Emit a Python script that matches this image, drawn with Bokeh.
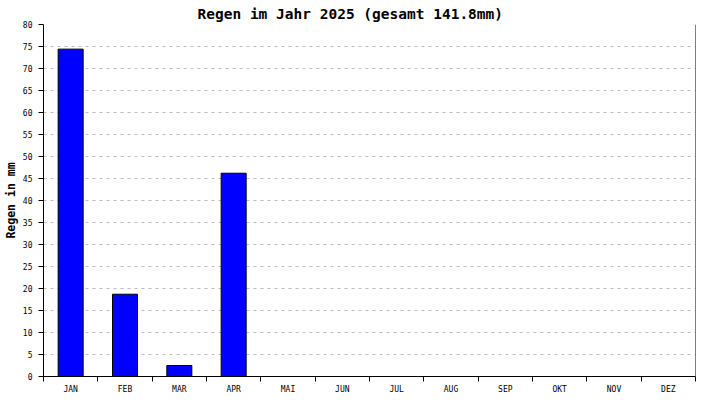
from bokeh.plotting import figure
from bokeh.models import FixedTicker, Span, Range1d, ColumnDataSource
from bokeh.embed import file_html
from bokeh.resources import INLINE

months = ["JAN", "FEB", "MAR", "APR", "MAI", "JUN", "JUL", "AUG", "SEP", "OKT", "NOV", "DEZ"]
rain_mm = [74.4, 18.7, 2.5, 46.2, 0, 0, 0, 0, 0, 0, 0, 0]
y_ticks = list(range(0, 81, 5))
title_text = "Regen im Jahr 2025 (gesamt 141.8mm)"
y_label = "Regen in mm"

FONT = "DejaVu Sans Mono"

centers = [i + 0.5 for i in range(len(months))]
src = ColumnDataSource(dict(x=[c for c, v in zip(centers, rain_mm) if v > 0],
                            top=[v for v in rain_mm if v > 0]))

p = figure(frame_width=652, frame_height=352, output_backend="svg", toolbar_location=None,
           x_range=Range1d(0, len(months)), y_range=Range1d(0, 80),
           title=title_text,
           min_border_left=35, min_border_right=7, min_border_top=0, min_border_bottom=0)
p.outline_line_color = None
p.background_fill_color = "white"
p.border_fill_color = "white"

p.title.text_font = FONT
p.title.text_font_size = "14.5px"
p.title.text_font_style = "bold"
p.title.text_color = "black"
p.title.align = "left"
p.title.offset = 154
p.title.standoff = 6

p.vbar(x="x", top="top", width=0.46, bottom=0, source=src,
       fill_color="#0000ff", line_color="black", line_width=1)

# x axis: labels at centres, ticks at boundaries
p.xaxis.ticker = FixedTicker(ticks=centers, minor_ticks=list(range(len(months) + 1)))
p.xaxis.major_label_overrides = {c: m for c, m in zip(centers, months)}
p.xaxis.major_tick_line_color = None
p.xaxis.minor_tick_line_color = "black"
p.xaxis.minor_tick_out = 5
p.xaxis.minor_tick_in = 0
p.xaxis.major_tick_out = 5
p.xaxis.major_tick_in = 0
p.xaxis.major_label_text_font = FONT
p.xaxis.major_label_text_font_size = "8px"
p.xaxis.major_label_text_color = "black"
p.xaxis.major_label_standoff = 3
p.xaxis.axis_line_color = "black"

p.yaxis.ticker = FixedTicker(ticks=y_ticks)
p.yaxis.major_tick_out = 5
p.yaxis.major_tick_in = 0
p.yaxis.minor_tick_line_color = None
p.yaxis.major_label_text_font = FONT
p.yaxis.major_label_text_font_size = "8px"
p.yaxis.major_label_text_color = "black"
p.yaxis.major_label_standoff = 6
p.yaxis.axis_line_color = "black"
p.yaxis.axis_label = y_label
p.yaxis.axis_label_text_font = FONT
p.yaxis.axis_label_text_font_size = "11.5px"
p.yaxis.axis_label_text_font_style = "bold"
p.yaxis.axis_label_text_color = "black"
p.yaxis.axis_label_standoff = 2

p.xgrid.grid_line_color = None
p.ygrid.grid_line_color = "#bbbbbb"
p.ygrid.grid_line_dash = "3 4"
p.ygrid.ticker = FixedTicker(ticks=y_ticks)

p.add_layout(Span(location=len(months), dimension="height", line_color="black", line_width=1))

open("out.html", "w").write(file_html(p, INLINE))
